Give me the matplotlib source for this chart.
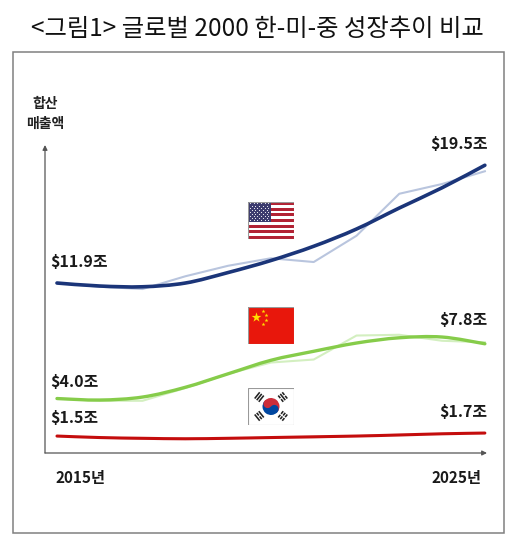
import numpy as np
import matplotlib
matplotlib.use("Agg")
import matplotlib.pyplot as plt
from matplotlib.patches import Rectangle, Wedge, Circle, Polygon, PathPatch
from matplotlib.path import Path

plt.rcParams['font.family'] = ['Noto Sans CJK KR', 'DejaVu Sans']

# data (trillion USD)
years = [2015, 2016, 2017, 2018, 2019, 2020, 2021, 2022, 2023, 2024, 2025]
us_trend = [11.8, 11.6, 11.55, 11.8, 12.5, 13.3, 14.25, 15.4, 16.8, 18.15, 19.65]
us_raw = [11.8, 11.55, 11.4, 12.25, 12.95, 13.45, 13.2, 14.95, 17.75, 18.4, 19.25]
cn_trend = [4.1, 4.0, 4.2, 4.85, 5.75, 6.65, 7.25, 7.8, 8.15, 8.2, 7.75]
cn_raw = [4.1, 3.95, 3.95, 4.8, 5.75, 6.5, 6.7, 8.3, 8.35, 7.95, 7.85]
kr_trend = [1.6, 1.5, 1.45, 1.42, 1.45, 1.5, 1.55, 1.6, 1.67, 1.75, 1.8]
kr_raw = [1.6, 1.5, 1.4, 1.38, 1.45, 1.5, 1.5, 1.6, 1.7, 1.75, 1.8]
start_labels = ["$11.9조", "$4.0조", "$1.5조"]
end_labels = ["$19.5조", "$7.8조", "$1.7조"]
year_labels = ["2015년", "2025년"]

W, H = 514, 544
fig = plt.figure(figsize=(W / 100, H / 100), dpi=100)


def px_axes(x0, y0, x1, y1):
    return fig.add_axes([x0 / W, 1 - y1 / H, (x1 - x0) / W, (y1 - y0) / H])


def smooth_line(ax, xs, ys, **kw):
    # excel-style smoothed line: cubic bezier segments through the points
    x = np.asarray(xs, float)
    y = np.asarray(ys, float)
    n = len(x)
    verts = [(x[0], y[0])]
    codes = [Path.MOVETO]
    for i in range(n - 1):
        x0, y0 = (x[i - 1], y[i - 1]) if i > 0 else (x[i], y[i])
        x3, y3 = (x[i + 2], y[i + 2]) if i + 2 < n else (x[i + 1], y[i + 1])
        c1 = (x[i] + (x[i + 1] - x0) / 6, y[i] + (y[i + 1] - y0) / 6)
        c2 = (x[i + 1] - (x3 - x[i]) / 6, y[i + 1] - (y3 - y[i]) / 6)
        verts += [c1, c2, (x[i + 1], y[i + 1])]
        codes += [Path.CURVE4] * 3
    ax.add_patch(PathPatch(Path(verts, codes), fill=False, capstyle='round',
                           zorder=3, **kw))


# title and outer frame
fig.text(0.5, 1 - 29 / H, "<그림1> 글로벌 2000 한-미-중 성장추이 비교",
         ha='center', va='center', fontsize=17.5, color='#111111')
fig.patches.append(Rectangle((13 / W, 1 - 533 / H), 491 / W, 481 / H,
                             transform=fig.transFigure, fill=False,
                             edgecolor='#808080', lw=1.1))

# main plot area
ax = px_axes(45, 145, 487, 453)
ax.set_xlim(2014.72, 2025.05)
ax.set_ylim(0.47, 21.0)
for s in ax.spines.values():
    s.set_visible(False)
ax.set_xticks([])
ax.set_yticks([])
ax.patch.set_alpha(0)

ax.annotate("", xy=(0, 1), xytext=(0, 0), xycoords='axes fraction',
            arrowprops=dict(arrowstyle='-|>', color='#555555', lw=0.9,
                            mutation_scale=7, shrinkA=0, shrinkB=0))
ax.annotate("", xy=(1, 0), xytext=(0, 0), xycoords='axes fraction',
            arrowprops=dict(arrowstyle='-|>', color='#555555', lw=0.9,
                            mutation_scale=7, shrinkA=0, shrinkB=0))

ax.plot(years, us_raw, color='#b9c5de', lw=1.5, zorder=2)
smooth_line(ax, years, us_trend, edgecolor='#1b3579', lw=2.6)
ax.plot(years, cn_raw, color='#d3efc0', lw=1.5, zorder=2)
smooth_line(ax, years, cn_trend, edgecolor='#86cc4a', lw=2.4)
ax.plot(years, kr_raw, color='#f2c4c4', lw=1.3, zorder=2)
smooth_line(ax, years, kr_trend, edgecolor='#c40d0d', lw=2.2)

lab = dict(fontsize=11.5, fontweight='bold', color='#1a1a1a', va='center')
start_off = [15, 12, 13]
end_off = [15, 17, 15]
for series, txt, dy in zip([us_trend, cn_trend, kr_trend], start_labels, start_off):
    ax.annotate(txt, xy=(years[0], series[0]), xytext=(-5, dy),
                textcoords='offset points', ha='left', **lab)
for series, txt, dy in zip([us_trend, cn_trend, kr_trend], end_labels, end_off):
    ax.annotate(txt, xy=(years[-1], series[-1]), xytext=(2, dy),
                textcoords='offset points', ha='right', **lab)

# axis texts
fig.text(45 / W, 1 - 104 / H, "합산", ha='center', va='center',
         fontsize=10, fontweight='bold', color='#222222')
fig.text(45 / W, 1 - 124 / H, "매출액", ha='center', va='center',
         fontsize=10, fontweight='bold', color='#222222')
fig.text(81 / W, 1 - 478 / H, year_labels[0], ha='center', va='center',
         fontsize=11, fontweight='bold', color='#1a1a1a')
fig.text(456 / W, 1 - 478 / H, year_labels[1], ha='center', va='center',
         fontsize=11, fontweight='bold', color='#1a1a1a')


# flags
def flag_box(x0, y0, x1, y1):
    fa = px_axes(x0, y0, x1, y1)
    fa.set_xlim(0, x1 - x0)
    fa.set_ylim(0, y1 - y0)
    fa.axis('off')
    return fa, x1 - x0, y1 - y0


# USA
fa, fw, fh = flag_box(248, 202, 294, 239)
for i in range(13):
    c = '#b22234' if i % 2 == 0 else 'white'
    fa.add_patch(Rectangle((0, fh - (i + 1) * fh / 13), fw, fh / 13, color=c, lw=0))
cw, ch = fw * 0.5, fh * 7 / 13
fa.add_patch(Rectangle((0, fh - ch), cw, ch, color='#3c3b6e', lw=0))
sx, sy = [], []
for r in range(9):
    n = 6 if r % 2 == 0 else 5
    for k in range(n):
        sx.append(cw * ((k + (0.5 if r % 2 == 0 else 1.0)) / 6.2))
        sy.append(fh - ch * (r + 0.7) / 9.4)
fa.scatter(sx, sy, s=0.6, color='white', lw=0)
fa.add_patch(Rectangle((0, 0), fw, fh, fill=False, edgecolor='#999999', lw=0.8))

# China
fa, fw, fh = flag_box(248, 307, 294, 344)
fa.add_patch(Rectangle((0, 0), fw, fh, color='#e8170c', lw=0))
fa.scatter([fw * 0.17], [fh * 0.72], marker='*', s=55, color='#ffde00', lw=0)
fa.scatter([fw * 0.33, fw * 0.40, fw * 0.40, fw * 0.33],
           [fh * 0.90, fh * 0.79, fh * 0.64, fh * 0.54],
           marker='*', s=9, color='#ffde00', lw=0)
fa.add_patch(Rectangle((0, 0), fw, fh, fill=False, edgecolor='#999999', lw=0.8))

# Korea
fa, fw, fh = flag_box(248, 388, 294, 425)
fa.add_patch(Rectangle((0, 0), fw, fh, color='white', lw=0))
cx, cy, r = fw / 2, fh / 2, 8.5
a = np.degrees(np.arctan2(-fh, fw))
fa.add_patch(Wedge((cx, cy), r, a, a + 180, color='#cd2e3a', lw=0))
fa.add_patch(Wedge((cx, cy), r, a + 180, a + 360, color='#0047a0', lw=0))
ua = np.radians(a)
dxu, dyu = np.cos(ua), np.sin(ua)
fa.add_patch(Circle((cx - dxu * r / 2, cy - dyu * r / 2), r / 2, color='#cd2e3a', lw=0))
fa.add_patch(Circle((cx + dxu * r / 2, cy + dyu * r / 2), r / 2, color='#0047a0', lw=0))

# trigrams: (direction sign x, sign y, pattern of broken bars from inner to outer)
trigrams = [(-1, 1, [0, 0, 0]), (1, -1, [1, 1, 1]), (1, 1, [1, 0, 1]), (-1, -1, [0, 1, 0])]
ang = np.arctan2(fh, fw)
for sxg, syg, pat in trigrams:
    u = np.array([sxg * np.cos(ang), syg * np.sin(ang)])
    v = np.array([-u[1], u[0]])
    for j, broken in enumerate(pat):
        c0 = np.array([cx, cy]) + u * (12.5 + j * 2.6)
        segs = [(-4, -0.6), (0.6, 4)] if broken else [(-4, 4)]
        for s0, s1 in segs:
            p1, p2 = c0 + v * s0, c0 + v * s1
            fa.add_patch(Polygon([p1 - u * 0.8, p2 - u * 0.8, p2 + u * 0.8, p1 + u * 0.8],
                                 color='#222222', lw=0))
fa.add_patch(Rectangle((0, 0), fw, fh, fill=False, edgecolor='#999999', lw=0.8))

fig.savefig("out.png", dpi=100)
